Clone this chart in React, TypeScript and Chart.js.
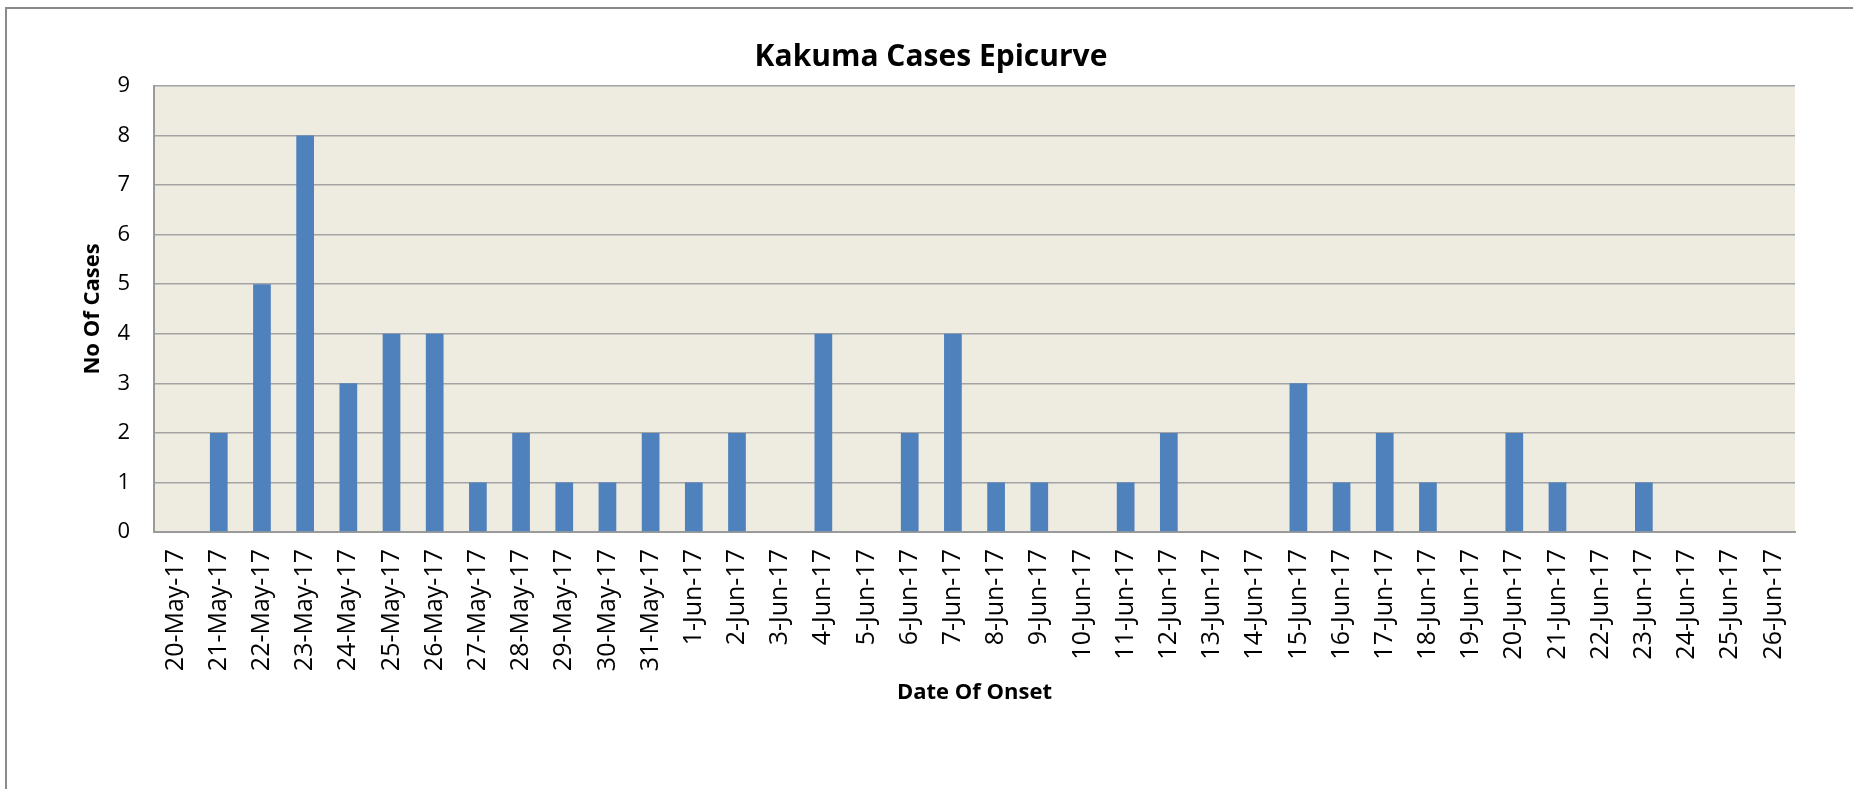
import React, { useEffect, useRef } from "react";
import { Chart, registerables } from "chart.js";

Chart.register(...registerables);

const chartTitle = "Kakuma Cases Epicurve";
const xAxisTitle = "Date Of Onset";
const yAxisTitle = "No Of Cases";

const onsetDates = [
  "20-May-17", "21-May-17", "22-May-17", "23-May-17", "24-May-17", "25-May-17",
  "26-May-17", "27-May-17", "28-May-17", "29-May-17", "30-May-17", "31-May-17",
  "1-Jun-17", "2-Jun-17", "3-Jun-17", "4-Jun-17", "5-Jun-17", "6-Jun-17",
  "7-Jun-17", "8-Jun-17", "9-Jun-17", "10-Jun-17", "11-Jun-17", "12-Jun-17",
  "13-Jun-17", "14-Jun-17", "15-Jun-17", "16-Jun-17", "17-Jun-17", "18-Jun-17",
  "19-Jun-17", "20-Jun-17", "21-Jun-17", "22-Jun-17", "23-Jun-17", "24-Jun-17",
  "25-Jun-17", "26-Jun-17",
];

const caseCounts = [
  0, 2, 5, 8, 3, 4, 4, 1, 2, 1, 1, 2,
  1, 2, 0, 4, 0, 2, 4, 1, 1, 0, 1, 2, 0, 0, 3, 1, 2, 1, 0, 2, 1, 0, 1, 0, 0, 0,
];

const yMin = 0;
const yMax = 9;
const yStep = 1;

const FONT = '"Open Sans", "DejaVu Sans", sans-serif';

export default function App() {
  const canvasRef = useRef<HTMLCanvasElement | null>(null);

  useEffect(() => {
    const canvas = canvasRef.current;
    if (!canvas) return;

    const framePlugin = {
      id: "frame",
      beforeDraw(chart: any) {
        const { ctx, chartArea } = chart;
        ctx.save();
        ctx.fillStyle = "#ffffff";
        ctx.fillRect(0, 0, chart.width, chart.height);
        // outer chart border (left + top visible)
        ctx.strokeStyle = "#8a8a8a";
        ctx.lineWidth = 2;
        ctx.beginPath();
        ctx.moveTo(6, chart.height);
        ctx.lineTo(6, 8);
        ctx.lineTo(chart.width, 8);
        ctx.stroke();
        // plot area background
        ctx.fillStyle = "#eeebe0";
        ctx.fillRect(
          chartArea.left,
          chartArea.top,
          chartArea.right - chartArea.left,
          chartArea.bottom - chartArea.top
        );
        ctx.restore();
      },
      afterDraw(chart: any) {
        const { ctx } = chart;
        ctx.save();
        ctx.fillStyle = "#000000";
        ctx.font = `bold 30px ${FONT}`;
        ctx.textAlign = "center";
        ctx.textBaseline = "alphabetic";
        ctx.fillText(chartTitle, 931, 66);
        ctx.restore();
      },
    };

    const chart = new Chart(canvas, {
      type: "bar",
      data: {
        labels: onsetDates,
        datasets: [
          {
            label: yAxisTitle,
            data: caseCounts,
            backgroundColor: "#4f81bd",
            borderWidth: 0,
            barPercentage: 0.41,
            categoryPercentage: 1,
          },
        ],
      },
      options: {
        responsive: false,
        animation: false,
        devicePixelRatio: 1,
        layout: { padding: { top: 86, right: 58, bottom: 0, left: 0 } },
        plugins: {
          legend: { display: false },
          title: { display: false },
          tooltip: { enabled: false },
        },
        scales: {
          x: {
            grid: { display: false, drawTicks: false },
            border: { display: true, color: "#9a9a9a", width: 2 },
            ticks: {
              color: "#000000",
              font: { family: FONT, size: 25 },
              minRotation: 90,
              maxRotation: 90,
              autoSkip: false,
              padding: 17,
            },
            title: {
              display: true,
              text: xAxisTitle,
              color: "#000000",
              font: { family: FONT, size: 22, weight: "bold" },
              padding: { top: 0, bottom: 83 },
            },
            afterFit(scale: any) {
              scale.height = 257;
            },
          },
          y: {
            min: yMin,
            max: yMax,
            grid: { display: true, color: "#a3a3a3", lineWidth: 1.5, drawTicks: false },
            border: { display: true, color: "#9a9a9a", width: 2 },
            ticks: {
              stepSize: yStep,
              color: "#000000",
              font: { family: FONT, size: 22 },
              padding: 24,
            },
            title: {
              display: true,
              text: yAxisTitle,
              color: "#000000",
              font: { family: FONT, size: 22, weight: "bold" },
              padding: { top: 80, bottom: 0 },
            },
            afterFit(scale: any) {
              scale.width = 154;
            },
          },
        },
      },
      plugins: [framePlugin],
    });

    return () => {
      chart.destroy();
    };
  }, []);

  return (
    <div style={{ position: "absolute", left: 0, top: 0, width: 1853, height: 789 }}>
      <canvas ref={canvasRef} width={1853} height={789} />
    </div>
  );
}
